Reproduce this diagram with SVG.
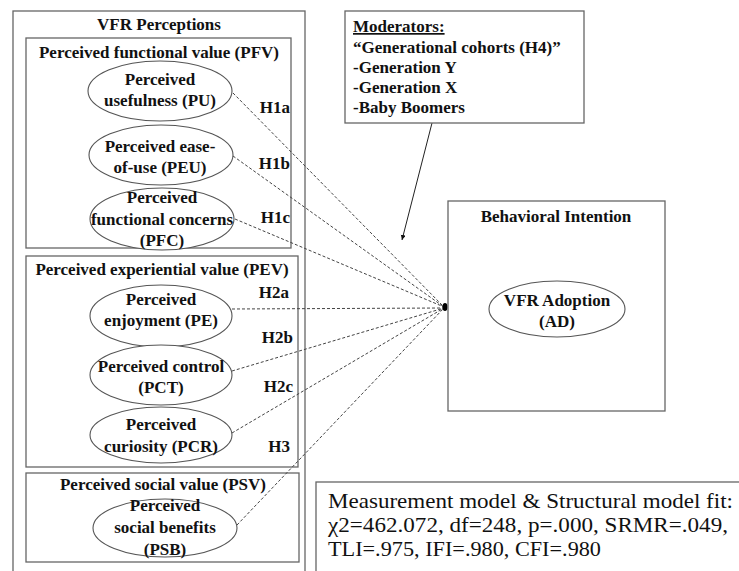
<svg xmlns="http://www.w3.org/2000/svg" width="739" height="571" viewBox="0 0 739 571">
<defs>
<style>
.box{fill:none;stroke:#666;stroke-width:1.3}
.ell{fill:#fff;stroke:#555;stroke-width:1.1}
.t{font-family:"Liberation Serif","Times New Roman",serif;font-weight:bold;font-size:17px;fill:#111;text-anchor:middle}
.tl{font-family:"Liberation Serif","Times New Roman",serif;font-weight:bold;font-size:17px;fill:#111}
.h{font-family:"Liberation Serif","Times New Roman",serif;font-weight:bold;font-size:17px;fill:#111;text-anchor:end}
.fit{font-family:"Liberation Serif","Times New Roman",serif;font-size:22px;fill:#111}
.dash{fill:none;stroke:#444;stroke-width:1;stroke-dasharray:3 2}
</style>
<marker id="arr" markerWidth="8" markerHeight="8" refX="5" refY="2.5" orient="auto" markerUnits="userSpaceOnUse">
<path d="M0,0 L5,2.5 L0,5 Z" fill="#111"/>
</marker>
</defs>
<rect width="739" height="571" fill="#fff"/>

<g id="vfr-perceptions">
<rect class="box" x="13" y="11" width="292" height="570"/>
<text class="t" x="159" y="30">VFR Perceptions</text>
</g>

<g id="pfv">
<rect class="box" x="26" y="38" width="265" height="210"/>
<text class="t" x="159" y="58">Perceived functional value (PFV)</text>
</g>

<g id="pev">
<rect class="box" x="26" y="256" width="272" height="211"/>
<text class="t" x="162" y="275">Perceived experiential value (PEV)</text>
</g>

<g id="psv">
<rect class="box" x="26" y="473" width="273" height="89"/>
<text class="t" x="163" y="490">Perceived social value (PSV)</text>
</g>

<g id="connectors">
<line class="dash" x1="233" y1="93" x2="444" y2="307"/>
<line class="dash" x1="233" y1="156" x2="444" y2="307"/>
<line class="dash" x1="235" y1="219" x2="444" y2="307"/>
<line class="dash" x1="232" y1="309" x2="444" y2="308"/>
<line class="dash" x1="232" y1="371" x2="444" y2="308"/>
<line class="dash" x1="232" y1="433" x2="444" y2="308"/>
<line class="dash" x1="237" y1="525" x2="444" y2="308"/>
<line x1="432" y1="123" x2="402" y2="240" stroke="#222" stroke-width="1" marker-end="url(#arr)"/>
<ellipse cx="445" cy="307" rx="2.5" ry="4" fill="#000"/>
</g>

<g id="pu">
<ellipse class="ell" cx="160" cy="91" rx="72" ry="30"/>
<text class="t" x="160" y="85">Perceived</text>
<text class="t" x="160" y="106">usefulness (PU)</text>
</g>

<g id="peu">
<ellipse class="ell" cx="161" cy="155" rx="72" ry="30"/>
<text class="t" x="160" y="152">Perceived ease-</text>
<text class="t" x="160" y="173">of-use (PEU)</text>
</g>

<g id="pfc">
<ellipse class="ell" cx="162" cy="219" rx="72" ry="31"/>
<text class="t" x="162" y="203">Perceived</text>
<text class="t" x="162" y="225">functional concerns</text>
<text class="t" x="162" y="246">(PFC)</text>
</g>

<g id="pe">
<ellipse class="ell" cx="161" cy="316" rx="71" ry="31"/>
<text class="t" x="161" y="305">Perceived</text>
<text class="t" x="161" y="326">enjoyment (PE)</text>
</g>

<g id="pct">
<ellipse class="ell" cx="161" cy="375" rx="71" ry="30"/>
<text class="t" x="161" y="372">Perceived control</text>
<text class="t" x="161" y="393">(PCT)</text>
</g>

<g id="pcr">
<ellipse class="ell" cx="161" cy="435" rx="71" ry="28"/>
<text class="t" x="161" y="430">Perceived</text>
<text class="t" x="161" y="452">curiosity (PCR)</text>
</g>

<g id="psb">
<ellipse class="ell" cx="165" cy="528" rx="72" ry="29"/>
<text class="t" x="165" y="511">Perceived</text>
<text class="t" x="165" y="533">social benefits</text>
<text class="t" x="165" y="555">(PSB)</text>
</g>

<g id="hyp-labels">
<text class="h" x="290" y="113">H1a</text>
<text class="h" x="290" y="169">H1b</text>
<text class="h" x="290" y="223">H1c</text>
<text class="h" x="289" y="298">H2a</text>
<text class="h" x="293" y="343">H2b</text>
<text class="h" x="293" y="392">H2c</text>
<text class="h" x="290" y="452">H3</text>
</g>

<g id="moderators">
<rect class="box" x="345" y="11" width="239" height="112"/>
<text class="tl" x="353" y="32" text-decoration="underline">Moderators:</text>
<text class="tl" x="353" y="53">“Generational cohorts (H4)”</text>
<text class="tl" x="353" y="73">-Generation Y</text>
<text class="tl" x="353" y="93">-Generation X</text>
<text class="tl" x="353" y="113">-Baby Boomers</text>
</g>

<g id="behavioral-intention">
<rect class="box" x="448" y="201" width="217" height="210"/>
<text class="t" x="556" y="222">Behavioral Intention</text>
</g>

<g id="ad">
<ellipse class="ell" cx="557" cy="309" rx="68" ry="28"/>
<text class="t" x="557" y="306">VFR Adoption</text>
<text class="t" x="557" y="327">(AD)</text>
</g>

<g id="model-fit">
<rect class="box" x="316" y="482" width="430" height="100"/>
<text class="fit" x="328" y="508" textLength="405" lengthAdjust="spacingAndGlyphs">Measurement model &amp; Structural model fit:</text>
<text class="fit" x="328" y="532" textLength="400" lengthAdjust="spacingAndGlyphs">χ2=462.072, df=248, p=.000, SRMR=.049,</text>
<text class="fit" x="328" y="556" textLength="273" lengthAdjust="spacingAndGlyphs">TLI=.975, IFI=.980, CFI=.980</text>
</g>
</svg>
